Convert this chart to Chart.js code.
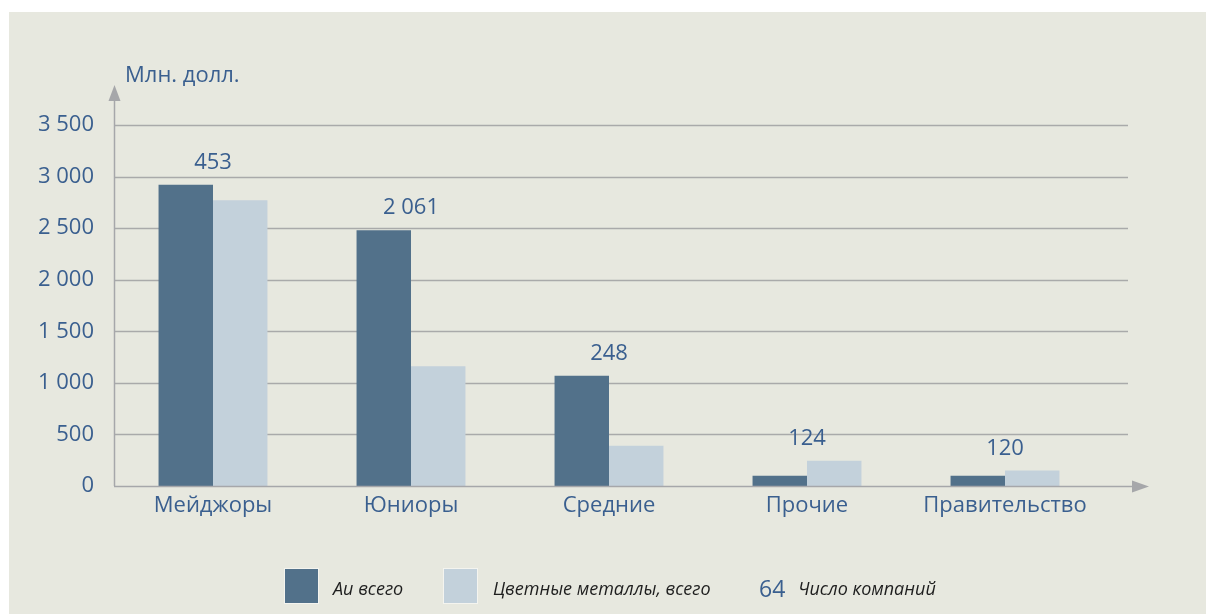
<!DOCTYPE html>
<html lang="ru">
<head>
<meta charset="utf-8">
<title>Млн. долл.</title>
<script src="https://cdn.jsdelivr.net/npm/chart.js@4.4.0/dist/chart.umd.min.js"></script>
<style>
    body { margin: 0; background: #fff; font-family: "Open Sans", sans-serif; }
    #panel { position: absolute; left: 9px; top: 12px; width: 1197px; height: 602px; background: #e7e8df; }
    #chart { position: absolute; left: 0; top: 0; }
    .title { position: absolute; left: 125px; top: 58px; font-size: 22px; color: #3a5f8f; line-height: 30px; }
    .box { position: absolute; top: 568px; width: 33px; height: 34px; border: 1px solid #f4f4ef; }
    .lbl { position: absolute; top: 576px; font-size: 18px; font-style: italic; color: #1e1e1e; line-height: 24px; white-space: nowrap; }
    .num { position: absolute; left: 759px; top: 574px; font-size: 23px; color: #3a5f8f; line-height: 28px; }
</style>
</head>
<body>
<div id="panel"></div>
<canvas id="chart" width="1206" height="614"></canvas>
<div class="title">Млн. долл.</div>
<div class="box" style="left:284px;background:#52718a"></div>
<div class="lbl" style="left:333px">Au всего</div>
<div class="box" style="left:443px;background:#c3d1db"></div>
<div class="lbl" style="left:493px">Цветные металлы, всего</div>
<div class="num">64</div>
<div class="lbl" style="left:798px">Число компаний</div>

<script>
// Chart data
const categories = ['Мейджоры', 'Юниоры', 'Средние', 'Прочие', 'Правительство'];
const goldTotal = [2920, 2480, 1070, 100, 100];
const metalsTotal = [2770, 1160, 390, 245, 150];
const companyCounts = [453, 2061, 248, 124, 120];
const yTicks = [0, 500, 1000, 1500, 2000, 2500, 3000, 3500];

const TEXT = '#3a5f8f';
const GRID = '#a9aaaa';
const ARROW = '#a6a7aa';
const FONT = '"Open Sans", sans-serif';

// 2061 -> "2 061"
function fmt(n) {
    return String(n).replace(/\B(?=(\d{3})+(?!\d))/g, ' ');
}

// grid lines and axes with arrows
const axesPlugin = {
    id: 'axesArrows',
    beforeDatasetsDraw(chart) {
        const { ctx, chartArea: a, scales: { y } } = chart;
        ctx.save();
        ctx.strokeStyle = GRID;
        ctx.lineWidth = 1.5;
        yTicks.forEach(v => {
            if (v === 0) return;
            const py = Math.round(y.getPixelForValue(v)) + 0.5;
            ctx.beginPath();
            ctx.moveTo(a.left, py);
            ctx.lineTo(a.right + 24, py);
            ctx.stroke();
        });
        // y axis
        const x0 = Math.round(a.left) + 0.5;
        ctx.strokeStyle = ARROW;
        ctx.beginPath();
        ctx.moveTo(x0, a.bottom);
        ctx.lineTo(x0, a.top - 26);
        ctx.stroke();
        ctx.fillStyle = ARROW;
        ctx.beginPath();
        ctx.moveTo(x0, a.top - 40);
        ctx.lineTo(x0 - 6, a.top - 24);
        ctx.lineTo(x0 + 6, a.top - 24);
        ctx.closePath();
        ctx.fill();
        ctx.restore();
    },
    afterDatasetsDraw(chart) {
        const { ctx, chartArea: a } = chart;
        const y0 = Math.round(chart.scales.y.getPixelForValue(0)) + 0.5;
        ctx.save();
        ctx.strokeStyle = ARROW;
        ctx.lineWidth = 1.5;
        ctx.beginPath();
        ctx.moveTo(a.left, y0);
        ctx.lineTo(a.right + 30, y0);
        ctx.stroke();
        ctx.fillStyle = ARROW;
        ctx.beginPath();
        ctx.moveTo(a.right + 45, y0);
        ctx.lineTo(a.right + 28, y0 - 6);
        ctx.lineTo(a.right + 28, y0 + 6);
        ctx.closePath();
        ctx.fill();

        // number of companies above each group
        const m0 = chart.getDatasetMeta(0).data;
        const m1 = chart.getDatasetMeta(1).data;
        ctx.font = '22px ' + FONT;
        ctx.fillStyle = TEXT;
        ctx.textAlign = 'center';
        ctx.textBaseline = 'middle';
        companyCounts.forEach((c, i) => {
            const x = (m0[i].x + m1[i].x) / 2;
            const top = Math.min(m0[i].y, m1[i].y);
            ctx.fillText(fmt(c), x, top - 22);
        });
        ctx.restore();
    }
};

const ctx = document.getElementById('chart').getContext('2d');
new Chart(ctx, {
    type: 'bar',
    data: {
        labels: categories,
        datasets: [
            { label: 'Au всего', data: goldTotal, backgroundColor: '#52718a' },
            { label: 'Цветные металлы, всего', data: metalsTotal, backgroundColor: '#c3d1db' }
        ]
    },
    options: {
        responsive: false,
        animation: false,
        devicePixelRatio: 1,
        layout: { autoPadding: false, padding: { left: 0, top: 125, right: 102, bottom: 68 } },
        datasets: { bar: { barPercentage: 1, categoryPercentage: 0.55 } },
        plugins: { legend: { display: false }, tooltip: { enabled: false } },
        scales: {
            x: {
                grid: { display: false, drawTicks: false },
                border: { display: false },
                ticks: { color: TEXT, font: { family: FONT, size: 22 }, padding: 7, maxRotation: 0 },
                afterFit(scale) { scale.height = 60; }
            },
            y: {
                min: 0,
                max: 3500,
                grid: { display: false, drawTicks: false },
                border: { display: false },
                afterBuildTicks(scale) { scale.ticks = yTicks.map(v => ({ value: v })); },
                ticks: {
                    color: TEXT,
                    font: { family: FONT, size: 22 },
                    padding: 20,
                    callback: v => fmt(v)
                },
                afterFit(scale) { scale.width = 114; }
            }
        }
    },
    plugins: [axesPlugin]
});
</script>
</body>
</html>
